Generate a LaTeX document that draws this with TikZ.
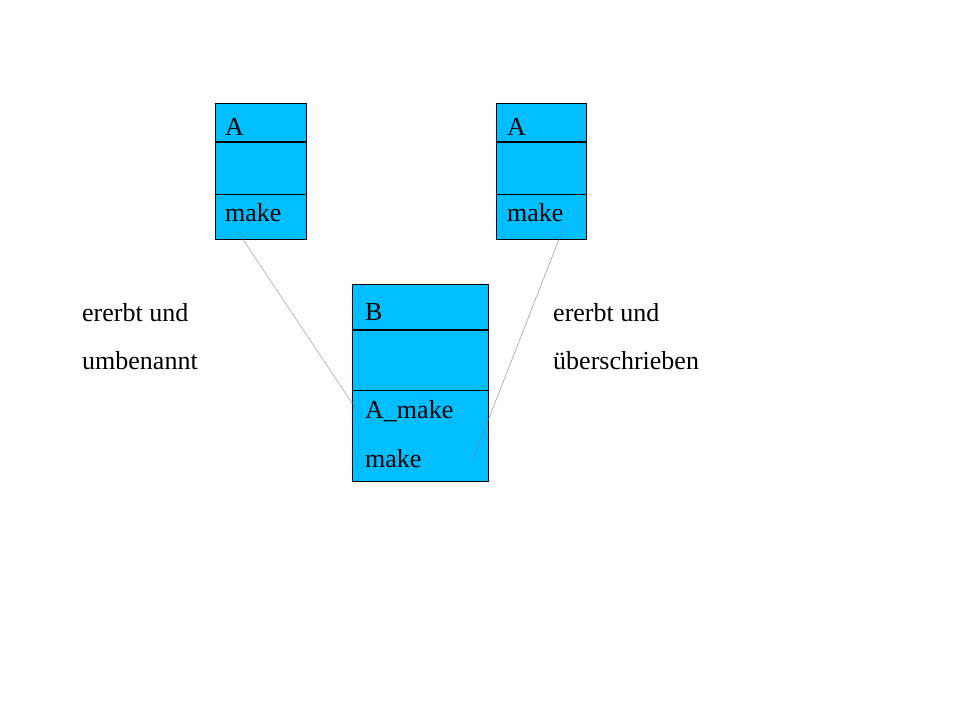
\documentclass[tikz,border=0pt]{standalone}
\usepackage{fontspec}
\setmainfont{Liberation Serif}
\definecolor{boxc}{RGB}{0,190,255}
\begin{document}
\begin{tikzpicture}[x=1pt,y=-1pt,
  cls/.style={draw=black,fill=boxc,line width=0.8pt,rectangle,inner sep=0,anchor=north west},
  lbl/.style={anchor=base west,inner sep=0,font=\fontsize{26}{30}\selectfont},
  link/.style={draw=gray,line width=0.4pt}]
\useasboundingbox (0,0) rectangle (960,720);
\node[cls,minimum width=91pt,minimum height=136pt] (A1) at (215,103) {};
\draw[line width=2pt] (215,142) -- (306,142);
\draw[line width=0.6pt] (215,194) -- (306,194);
\node[lbl] (A1t) at (225,135) {A};
\node[lbl] (A1m) at (225,221) {make};
\node[cls,minimum width=90pt,minimum height=136pt] (A2) at (496,103) {};
\draw[line width=2pt] (496,142) -- (586,142);
\draw[line width=0.6pt] (496,194) -- (586,194);
\node[lbl] (A2t) at (507,135) {A};
\node[lbl] (A2m) at (507,221) {make};
\node[cls,minimum width=136pt,minimum height=197pt] (B) at (352,284) {};
\draw[line width=2pt] (352,330) -- (488,330);
\draw[line width=0.6pt] (352,390) -- (488,390);
\node[lbl] (Bt) at (365,320) {B};
\node[lbl] (Ba) at (365,418) {A\_make};
\node[lbl] (Bm) at (365,467) {make};
\node[lbl] (L1) at (82,321) {ererbt und};
\node[lbl] (L2) at (82,369) {umbenannt};
\node[lbl] (R1) at (553,321) {ererbt und};
\node[lbl] (R2) at (553,369) {überschrieben};
\coordinate (p1) at (238,232);
\coordinate (q1) at (358,412);
\coordinate (p2) at (565,224);
\coordinate (q2) at (473,459);
\draw[link] (p1) -- (q1);
\draw[link] (p2) -- (q2);
\end{tikzpicture}
\end{document}
